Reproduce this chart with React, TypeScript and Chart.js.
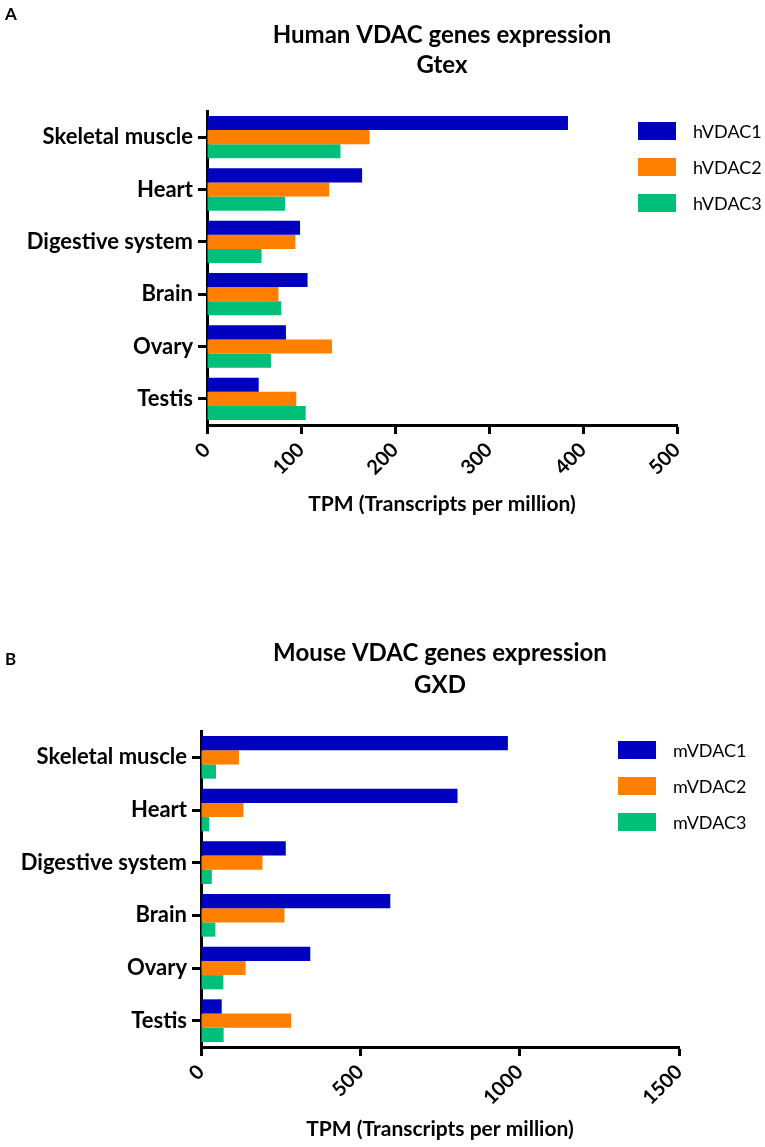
import React, { useEffect, useRef } from 'react';
import { Chart, registerables } from 'chart.js';

Chart.register(...registerables);

const categories = ['Skeletal muscle', 'Heart', 'Digestive system', 'Brain', 'Ovary', 'Testis'];

const humanSeries = ['hVDAC1', 'hVDAC2', 'hVDAC3'];
const hVDAC1 = [384, 165, 99, 107, 84, 55];
const hVDAC2 = [173, 130, 94, 76, 133, 95];
const hVDAC3 = [142, 83, 58, 79, 68, 105];
const humanTicks = [0, 100, 200, 300, 400, 500];

const mouseSeries = ['mVDAC1', 'mVDAC2', 'mVDAC3'];
const mVDAC1 = [963, 805, 266, 594, 343, 65];
const mVDAC2 = [119, 133, 193, 262, 140, 283];
const mVDAC3 = [47, 26, 34, 45, 70, 71];
const mouseTicks = [0, 500, 1000, 1500];

const seriesColors = ['#0000BF', '#FF8000', '#00BF78'];
const FONT = 'Lato';

type Panel = {
  letter: string;
  title1: string;
  title2: string;
  series: string[];
  values: number[][];
  ticks: number[];
  height: number;
  area: { top: number; bottom: number; left: number; right: number };
  legendX: number;
  legendY: number;
  letterY: number;
  titleY1: number;
  titleY2: number;
  axisTitlePad: number;
};

const panels: Panel[] = [
  {
    letter: 'A',
    title1: 'Human VDAC genes expression',
    title2: 'Gtex',
    series: humanSeries,
    values: [hVDAC1, hVDAC2, hVDAC3],
    ticks: humanTicks,
    height: 560,
    area: { top: 111, bottom: 425, left: 207, right: 677 },
    legendX: 638,
    legendY: 122,
    letterY: 15,
    titleY1: 35,
    titleY2: 65,
    axisTitlePad: 43,
  },
  {
    letter: 'B',
    title1: 'Mouse VDAC genes expression',
    title2: 'GXD',
    series: mouseSeries,
    values: [mVDAC1, mVDAC2, mVDAC3],
    ticks: mouseTicks,
    height: 587,
    area: { top: 171, bottom: 487, left: 201, right: 679 },
    legendX: 618,
    legendY: 181,
    letterY: 100,
    titleY1: 93,
    titleY2: 125,
    axisTitlePad: 5,
  },
];

const overlayPlugin = {
  id: 'overlay',
  afterDraw(chart: any, _args: any, opts: any) {
    const { ctx, chartArea } = chart;
    ctx.save();
    ctx.fillStyle = '#000';
    ctx.textBaseline = 'middle';
    ctx.textAlign = 'center';
    ctx.font = `bold 24px ${FONT}`;
    const cx = (chartArea.left + chartArea.right) / 2;
    ctx.fillText(opts.title1, cx, opts.titleY1);
    ctx.fillText(opts.title2, cx, opts.titleY2);
    ctx.textAlign = 'left';
    ctx.font = `bold 17px ${FONT}`;
    ctx.fillText(opts.letter, 5, opts.letterY);
    chart.data.datasets.forEach((ds: any, i: number) => {
      const y = opts.legendY + i * 36;
      ctx.fillStyle = ds.backgroundColor;
      ctx.fillRect(opts.legendX, y, 38, 18);
      ctx.fillStyle = '#000';
      ctx.font = `18px ${FONT}`;
      ctx.fillText(ds.label, opts.legendX + 55, y + 10);
    });
    ctx.restore();
  },
};

function PanelChart({ p }: { p: Panel }) {
  const ref = useRef<HTMLCanvasElement | null>(null);
  useEffect(() => {
    if (!ref.current) return;
    const chart = new Chart(ref.current, {
      type: 'bar',
      data: {
        labels: categories,
        datasets: p.series.map((name, i) => ({
          label: name,
          data: p.values[i],
          backgroundColor: seriesColors[i],
          borderWidth: 0,
          categoryPercentage: 0.81,
          barPercentage: 1.0,
        })),
      },
      options: {
        indexAxis: 'y',
        responsive: false,
        animation: false,
        devicePixelRatio: 1,
        layout: {
          padding: { top: p.area.top, right: 765 - p.area.right, left: 0, bottom: 0 },
        },
        plugins: {
          legend: { display: false },
          title: { display: false },
          tooltip: { enabled: false },
          overlay: {
            title1: p.title1,
            title2: p.title2,
            letter: p.letter,
            titleY1: p.titleY1,
            titleY2: p.titleY2,
            letterY: p.letterY,
            legendX: p.legendX,
            legendY: p.legendY,
          },
        } as any,
        scales: {
          y: {
            type: 'category',
            position: 'left',
            grid: {
              display: true,
              drawOnChartArea: false,
              drawTicks: true,
              tickLength: 9,
              tickWidth: 3,
              tickColor: '#000',
              offset: false,
            },
            border: { display: true, width: 3, color: '#000' },
            ticks: {
              color: '#000',
              padding: 5,
              font: { family: FONT, size: 22, weight: 'bold' },
            },
            afterFit: (s: any) => {
              s.width = p.area.left;
            },
          },
          x: {
            type: 'linear',
            position: 'bottom',
            min: p.ticks[0],
            max: p.ticks[p.ticks.length - 1],
            afterBuildTicks: (s: any) => {
              s.ticks = p.ticks.map((v) => ({ value: v }));
            },
            grid: {
              display: true,
              drawOnChartArea: false,
              drawTicks: true,
              tickLength: 9,
              tickWidth: 3,
              tickColor: '#000',
            },
            border: { display: true, width: 3, color: '#000' },
            ticks: {
              color: '#000',
              autoSkip: false,
              minRotation: 45,
              maxRotation: 45,
              padding: 4,
              font: { family: FONT, size: 20, weight: 'bold' },
              callback: (v: any) => String(v),
            },
            title: {
              display: true,
              text: 'TPM (Transcripts per million)',
              color: '#000',
              font: { family: FONT, size: 21, weight: 'bold' },
              padding: { top: 0, bottom: p.axisTitlePad },
            },
            afterFit: (s: any) => {
              s.height = p.height - p.area.bottom;
            },
          },
        } as any,
      },
      plugins: [overlayPlugin as any],
    });
    return () => chart.destroy();
  }, [p]);
  return <canvas ref={ref} width={765} height={p.height} style={{ display: 'block', width: 765, height: p.height }} />;
}

export default function App() {
  return (
    <div style={{ position: 'absolute', left: 0, top: 0, width: 765, height: 1147, background: '#fff' }}>
      {panels.map((p) => (
        <PanelChart key={p.letter} p={p} />
      ))}
    </div>
  );
}
